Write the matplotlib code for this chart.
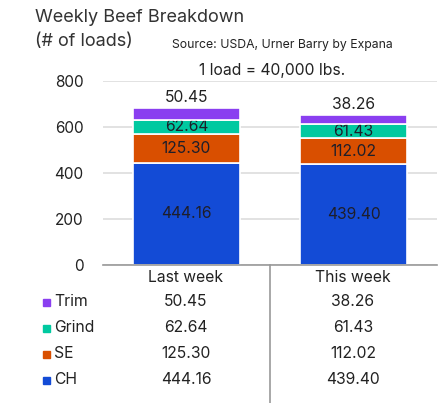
import numpy as np
import matplotlib
matplotlib.use('Agg')
import matplotlib.pyplot as plt
from matplotlib.patches import Rectangle

plt.rcParams['font.family'] = ['Inter', 'DejaVu Sans']

weeks = ['Last week', 'This week']
segments = ['CH', 'SE', 'Grind', 'Trim']
ch = [444.16, 439.40]
se = [125.30, 112.02]
grind = [62.64, 61.43]
trim = [50.45, 38.26]
colors = ['#134bd6', '#d94f00', '#00c9a0', '#8a3ff0']
yticks = [0, 200, 400, 600, 800]

W, H = 442, 403
fig = plt.figure(figsize=(W / 100, H / 100), dpi=100)
ax = fig.add_axes([103 / W, (H - 265) / H, 334 / W, 184 / H])

x = np.arange(len(weeks))
bottom = np.zeros(len(weeks))
for name, vals, col in zip(segments, [ch, se, grind, trim], colors):
    ax.bar(x, vals, 0.635, bottom=bottom, color=col, edgecolor='white', linewidth=1.2, zorder=3)
    for xi, b, v in zip(x, bottom, vals):
        if name == 'Trim':
            ax.text(xi, b + v + 12, f'{v:.2f}', ha='center', va='bottom', fontsize=11.3, color='#222222')
        else:
            ax.text(xi, b + v / 2, f'{v:.2f}', ha='center', va='center', fontsize=11.3, color='#1e1e2a')
    bottom += np.array(vals)

ax.set_xlim(-0.5, 1.5)
ax.set_ylim(0, 800)
ax.set_yticks(yticks)
ax.set_yticklabels([str(t) for t in yticks], fontsize=11, color='#222222')
ax.tick_params(axis='y', length=0, pad=14)
ax.set_xticks([])
ax.grid(axis='y', color='#dddddd', linewidth=1.2, zorder=0)
for s in ['top', 'right', 'left']:
    ax.spines[s].set_visible(False)
ax.spines['bottom'].set_color('#999999')
ax.spines['bottom'].set_linewidth(1.2)
ax.spines['bottom'].set_zorder(4)

# titles
fig.text(35 / W, 1 - 18 / H, 'Weekly Beef Breakdown', fontsize=13, color='#333333', va='center', ha='left')
fig.text(35 / W, 1 - 42 / H, '(# of loads)', fontsize=13, color='#333333', va='center', ha='left')
fig.text(172 / W, 1 - 45 / H, 'Source: USDA, Urner Barry by Expana', fontsize=8.8, color='#222222', va='center', ha='left')
fig.text(272 / W, 1 - 70 / H, '1 load = 40,000 lbs.', fontsize=11.3, color='#222222', va='center', ha='center')

# table under the chart
sep_x = 270 / W
fig.add_artist(plt.Line2D([sep_x, sep_x], [0, (H - 265) / H], color='#999999', linewidth=1.2))

col_x = [186 / W, 353 / W]
fig.text(col_x[0], 1 - 277 / H, weeks[0], fontsize=11.3, color='#222222', ha='center', va='center')
fig.text(col_x[1], 1 - 277 / H, weeks[1], fontsize=11.3, color='#222222', ha='center', va='center')

rows = [('Trim', trim, colors[3]), ('Grind', grind, colors[2]), ('SE', se, colors[1]), ('CH', ch, colors[0])]
row_y = [302, 328, 354, 380]
for (name, vals, col), ry in zip(rows, row_y):
    yf = 1 - ry / H
    fig.add_artist(Rectangle((43 / W, yf - 3.5 / H), 7 / W, 7 / H, color=col, transform=fig.transFigure))
    fig.text(54 / W, yf, name, fontsize=11.3, color='#222222', ha='left', va='center')
    for cx, v in zip(col_x, vals):
        fig.text(cx, yf, f'{v:.2f}', fontsize=11.3, color='#222222', ha='center', va='center')

fig.savefig('out.png', dpi=100)
